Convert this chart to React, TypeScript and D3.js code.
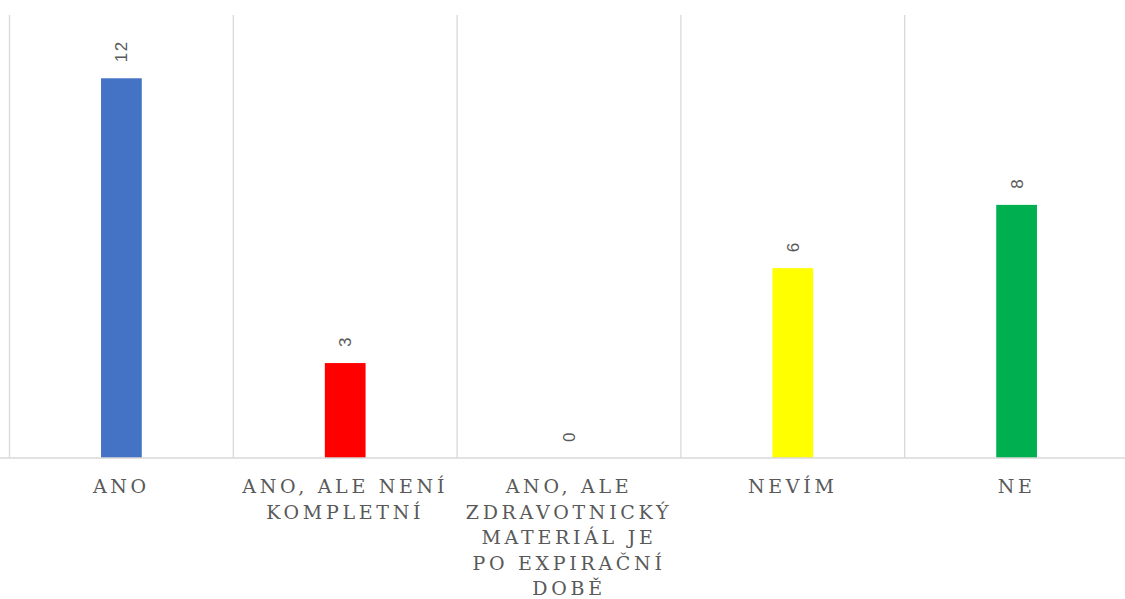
import React, { useEffect, useRef } from 'react';
import * as d3 from 'd3';

const categories = [
  'ANO',
  'ANO, ALE NENÍ KOMPLETNÍ',
  'ANO, ALE ZDRAVOTNICKÝ MATERIÁL JE PO EXPIRAČNÍ DOBĚ',
  'NEVÍM',
  'NE',
];
const values = [12, 3, 0, 6, 8];
const barColors = ['#4472C4', '#FF0000', '#A5A5A5', '#FFFF00', '#00B050'];

const WIDTH = 1125;
const HEIGHT = 599;

const App: React.FC = () => {
  const ref = useRef<SVGSVGElement | null>(null);

  useEffect(() => {
    const svg = d3.select(ref.current);
    svg.selectAll('*').remove();

    const plot = { left: 9.5, right: 1128.5, top: 15, bottom: 458 };

    const x = d3.scaleBand<string>()
      .domain(categories)
      .range([plot.left, plot.right])
      .paddingInner(0.818)
      .paddingOuter(0.409);
    const step = x.step();

    const y = d3.scaleLinear()
      .domain([0, 14])
      .range([plot.bottom, plot.top]);

    // vertical gridlines between categories
    svg.append('g')
      .selectAll('line')
      .data(d3.range(categories.length + 1))
      .enter()
      .append('line')
      .attr('x1', i => plot.left + i * step)
      .attr('x2', i => plot.left + i * step)
      .attr('y1', plot.top)
      .attr('y2', plot.bottom)
      .attr('stroke', '#d9d9d9')
      .attr('stroke-width', 1.3);

    // bars
    svg.append('g')
      .selectAll('rect')
      .data(values)
      .enter()
      .append('rect')
      .attr('x', (d, i) => x(categories[i])!)
      .attr('width', x.bandwidth())
      .attr('y', d => y(d))
      .attr('height', d => y(0) - y(d))
      .attr('fill', (d, i) => barColors[i]);

    // baseline
    svg.append('line')
      .attr('x1', 0)
      .attr('x2', WIDTH)
      .attr('y1', plot.bottom)
      .attr('y2', plot.bottom)
      .attr('stroke', '#d9d9d9')
      .attr('stroke-width', 1.3);

    // rotated value labels
    svg.append('g')
      .selectAll('text')
      .data(values)
      .enter()
      .append('text')
      .attr('transform', (d, i) => {
        const cx = x(categories[i])! + x.bandwidth() / 2;
        return `translate(${cx},${y(d) - 16}) rotate(-90)`;
      })
      .attr('dy', '0.35em')
      .attr('text-anchor', 'start')
      .attr('fill', '#595959')
      .attr('font-family', '"Liberation Sans", Arial, sans-serif')
      .attr('font-size', 17)
      .attr('letter-spacing', 1.5)
      .text(d => d);

    // category labels with word wrap
    const maxW = 212;
    const lineH = 25.6;
    const labels = svg.append('g');
    categories.forEach(cat => {
      const cx = x(cat)! + x.bandwidth() / 2;
      const text = labels.append('text')
        .attr('x', cx)
        .attr('y', 493)
        .attr('text-anchor', 'middle')
        .attr('fill', '#595959')
        .attr('font-family', '"DejaVu Serif", serif')
        .attr('font-size', 19)
        .attr('letter-spacing', 3.7);
      const words = cat.split(' ');
      let line: string[] = [];
      let tspan = text.append('tspan').attr('x', cx).attr('dy', 0);
      words.forEach(w => {
        line.push(w);
        tspan.text(line.join(' '));
        if ((tspan.node() as SVGTSpanElement).getComputedTextLength() > maxW && line.length > 1) {
          line.pop();
          tspan.text(line.join(' '));
          line = [w];
          tspan = text.append('tspan').attr('x', cx).attr('dy', lineH).text(w);
        }
      });
    });
  }, []);

  return (
    <svg
      ref={ref}
      width={WIDTH}
      height={HEIGHT}
      style={{ position: 'absolute', left: 0, top: 0, background: '#ffffff' }}
    />
  );
};

export default App;
